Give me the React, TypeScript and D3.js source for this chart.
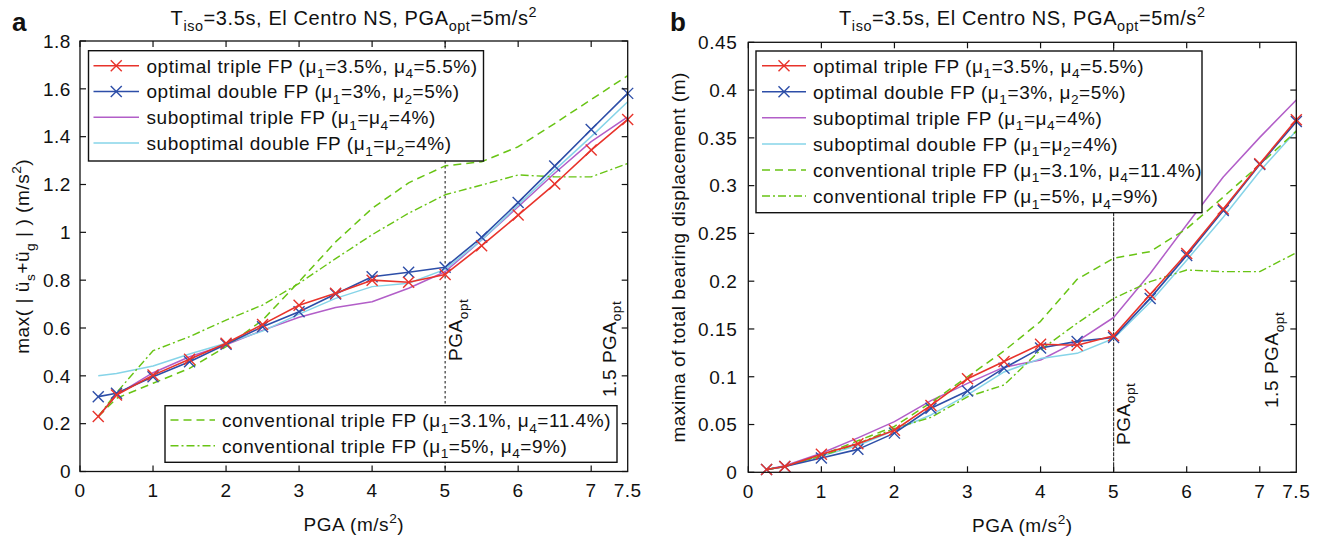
import React from 'react';
import * as d3 from 'd3';

// ---------- data ----------
const PGA = [0.25, 0.5, 1, 1.5, 2, 2.5, 3, 3.5, 4, 4.5, 5, 5.5, 6, 6.5, 7, 7.5];

// panel a: max absolute acceleration (m/s^2)
const accOptTriple = [0.23, 0.32, 0.403, 0.469, 0.536, 0.615, 0.695, 0.745, 0.8, 0.791, 0.824, 0.944, 1.072, 1.202, 1.344, 1.472];
const accOptDouble = [0.313, 0.327, 0.396, 0.459, 0.532, 0.605, 0.668, 0.742, 0.814, 0.833, 0.854, 0.979, 1.125, 1.277, 1.43, 1.581];
const accSubTriple = [0.23, 0.32, 0.413, 0.48, 0.53, 0.59, 0.645, 0.686, 0.71, 0.766, 0.835, 0.968, 1.107, 1.247, 1.379, 1.483];
const accSubDouble = [0.4, 0.41, 0.441, 0.491, 0.536, 0.587, 0.658, 0.724, 0.773, 0.787, 0.845, 0.968, 1.114, 1.26, 1.4, 1.546];
const accConvA = [0.23, 0.306, 0.369, 0.431, 0.522, 0.633, 0.794, 0.96, 1.1, 1.207, 1.278, 1.295, 1.358, 1.455, 1.555, 1.655];
const accConvB = [0.23, 0.33, 0.505, 0.564, 0.633, 0.696, 0.787, 0.89, 0.99, 1.08, 1.157, 1.198, 1.24, 1.232, 1.232, 1.288];

// panel b: maxima of total bearing displacement (m)
const dispOptTriple = [0.003, 0.006, 0.019, 0.03, 0.044, 0.07, 0.098, 0.116, 0.134, 0.133, 0.143, 0.186, 0.229, 0.2755, 0.323, 0.369];
const dispOptDouble = [0.003, 0.006, 0.015, 0.024, 0.041, 0.067, 0.085, 0.109, 0.13, 0.137, 0.141, 0.182, 0.227, 0.274, 0.322, 0.367];
const dispSubTriple = [0.003, 0.007, 0.02, 0.036, 0.053, 0.075, 0.093, 0.11, 0.1175, 0.137, 0.162, 0.208, 0.259, 0.309, 0.3505, 0.3896];
const dispSubDouble = [0.003, 0.006, 0.017, 0.028, 0.044, 0.06, 0.081, 0.105, 0.119, 0.1245, 0.14, 0.178, 0.222, 0.267, 0.315, 0.3575];
const dispConvA = [0.003, 0.006, 0.018, 0.033, 0.048, 0.073, 0.1, 0.127, 0.158, 0.202, 0.224, 0.231, 0.255, 0.288, 0.322, 0.357];
const dispConvB = [0.003, 0.006, 0.017, 0.03, 0.046, 0.0575, 0.079, 0.0914, 0.128, 0.156, 0.182, 0.1995, 0.2117, 0.21, 0.21, 0.2298];

const X_TICKS = [0, 1, 2, 3, 4, 5, 6, 7];
const X_MAX = 7.5;
const ACC_TICKS = [0, 0.2, 0.4, 0.6, 0.8, 1, 1.2, 1.4, 1.6, 1.8];
const DISP_TICKS = [0, 0.05, 0.1, 0.15, 0.2, 0.25, 0.3, 0.35, 0.4, 0.45];
const PGA_OPT = 5;

type Part = [string, 'n' | 'sub' | 'sup'];
const LEGEND_LABELS: Part[][] = [
  [['optimal triple FP (μ', 'n'], ['1', 'sub'], ['=3.5%, μ', 'n'], ['4', 'sub'], ['=5.5%)', 'n']],
  [['optimal double FP (μ', 'n'], ['1', 'sub'], ['=3%, μ', 'n'], ['2', 'sub'], ['=5%)', 'n']],
  [['suboptimal triple FP (μ', 'n'], ['1', 'sub'], ['=μ', 'n'], ['4', 'sub'], ['=4%)', 'n']],
  [['suboptimal double FP (μ', 'n'], ['1', 'sub'], ['=μ', 'n'], ['2', 'sub'], ['=4%)', 'n']],
  [['conventional triple FP (μ', 'n'], ['1', 'sub'], ['=3.1%, μ', 'n'], ['4', 'sub'], ['=11.4%)', 'n']],
  [['conventional triple FP (μ', 'n'], ['1', 'sub'], ['=5%, μ', 'n'], ['4', 'sub'], ['=9%)', 'n']],
];
const TITLE: Part[] = [['T', 'n'], ['iso', 'sub'], ['=3.5s, El Centro NS, PGA', 'n'], ['opt', 'sub'], ['=5m/s', 'n'], ['2', 'sup']];
const X_LABEL: Part[] = [['PGA (m/s', 'n'], ['2', 'sup'], [')', 'n']];
const Y_LABEL_A: Part[] = [['max( | ü', 'n'], ['s', 'sub'], ['+ü', 'n'], ['g', 'sub'], [' | ) (m/s', 'n'], ['2', 'sup'], [')', 'n']];
const Y_LABEL_B: Part[] = [['maxima of total bearing displacement (m)', 'n']];
const OPT_LABEL: Part[] = [['PGA', 'n'], ['opt', 'sub']];
const OPT15_LABEL: Part[] = [['1.5 PGA', 'n'], ['opt', 'sub']];

// ---------- styles ----------
const STYLES = [
  { color: '#e8332b', dash: undefined as string | undefined, marker: true, w: 1.6 },
  { color: '#2d4ea8', dash: undefined, marker: true, w: 1.6 },
  { color: '#b25ec8', dash: undefined, marker: false, w: 1.5 },
  { color: '#86d4e8', dash: undefined, marker: false, w: 1.5 },
  { color: '#68c414', dash: '8,5', marker: false, w: 1.5 },
  { color: '#68c414', dash: '8,3,2,3', marker: false, w: 1.4 },
];
const DRAW_ORDER = [2, 3, 4, 5, 1, 0];
const FONT = '"Liberation Sans", Arial, Helvetica, sans-serif';
const FS = 19;
const LS = 0.55;

function Rich({ parts, fs }: { parts: Part[]; fs: number }) {
  let shift = 0;
  return (
    <>
      {parts.map(([t, k], i) => {
        const target = k === 'sub' ? fs * 0.3 : k === 'sup' ? -fs * 0.42 : 0;
        const dy = target - shift;
        shift = target;
        return (
          <tspan key={i} dy={dy} fontSize={k === 'n' ? fs : fs * 0.72}>
            {t}
          </tspan>
        );
      })}
    </>
  );
}

function Marker({ x, y, color }: { x: number; y: number; color: string }) {
  const s = 5.5;
  return (
    <g stroke={color} strokeWidth={1.4}>
      <line x1={x - s} y1={y - s} x2={x + s} y2={y + s} />
      <line x1={x - s} y1={y + s} x2={x + s} y2={y - s} />
    </g>
  );
}

type LegendBox = { x: number; y: number; w: number; h: number; row0: number; dRow: number; s0: number; s1: number; tx: number; items: number[] };

function Legend({ box }: { box: LegendBox }) {
  return (
    <g>
      <rect x={box.x} y={box.y} width={box.w} height={box.h} fill="#fff" stroke="#111" strokeWidth={1.4} />
      {box.items.map((si, i) => {
        const cy = box.row0 + i * box.dRow;
        const st = STYLES[si];
        return (
          <g key={i}>
            <line x1={box.s0} x2={box.s1} y1={cy} y2={cy} stroke={st.color} strokeWidth={st.w} strokeDasharray={st.dash} />
            {st.marker && <Marker x={(box.s0 + box.s1) / 2} y={cy} color={st.color} />}
            <text x={box.tx} y={cy + 6.8} fontSize={FS} letterSpacing={LS} fill="#111">
              <Rich parts={LEGEND_LABELS[si]} fs={FS} />
            </text>
          </g>
        );
      })}
    </g>
  );
}

type PanelProps = {
  letter: string;
  x0: number; x1: number; yTop: number; yBot: number;
  yMax: number; yTicks: number[];
  series: number[][];
  yLabel: Part[]; yLabelX: number;
  tickGap: number;
  legends: LegendBox[];
  refDash: string;
  optOff: number; opt15Off: number; optY: number; opt15Y: number;
  letterX: number;
};

function Panel(p: PanelProps) {
  const x = d3.scaleLinear().domain([0, X_MAX]).range([p.x0, p.x1]);
  const y = d3.scaleLinear().domain([0, p.yMax]).range([p.yBot, p.yTop]);
  const line = d3.line<number>().x((_, i) => x(PGA[i])).y((d) => y(d));
  const tl = 6;
  const cx = (p.x0 + p.x1) / 2;
  const cy = (p.yTop + p.yBot) / 2;
  return (
    <g fontFamily={FONT}>
      {/* title */}
      <text x={cx} y={25} textAnchor="middle" fontSize={20} letterSpacing={0.6} fill="#111">
        <Rich parts={TITLE} fs={20} />
      </text>
      <text x={p.letterX} y={31} fontSize={26} fontWeight="bold" fill="#111">{p.letter}</text>

      {/* reference line at PGA_opt */}
      <line x1={x(PGA_OPT)} x2={x(PGA_OPT)} y1={p.yTop} y2={p.yBot} stroke="#222" strokeWidth={1.1} strokeDasharray={p.refDash} />

      {/* series */}
      {DRAW_ORDER.map((si) => {
        const st = STYLES[si];
        return (
          <g key={si}>
            <path d={line(p.series[si]) || ''} fill="none" stroke={st.color} strokeWidth={st.w} strokeDasharray={st.dash} strokeLinejoin="round" />
            {st.marker && p.series[si].map((v, i) => <Marker key={i} x={x(PGA[i])} y={y(v)} color={st.color} />)}
          </g>
        );
      })}

      {/* box and ticks */}
      <rect x={p.x0} y={p.yTop} width={p.x1 - p.x0} height={p.yBot - p.yTop} fill="none" stroke="#111" strokeWidth={1.3} />
      {X_TICKS.map((t) => (
        <g key={'xt' + t} stroke="#111" strokeWidth={1.2}>
          <line x1={x(t)} x2={x(t)} y1={p.yBot} y2={p.yBot - tl} />
          <line x1={x(t)} x2={x(t)} y1={p.yTop} y2={p.yTop + tl} />
        </g>
      ))}
      {p.yTicks.map((t) => (
        <g key={'yt' + t} stroke="#111" strokeWidth={1.2}>
          <line x1={p.x0} x2={p.x0 + tl} y1={y(t)} y2={y(t)} />
          <line x1={p.x1} x2={p.x1 - tl} y1={y(t)} y2={y(t)} />
        </g>
      ))}
      {[...X_TICKS, X_MAX].map((t) => (
        <text key={'xl' + t} x={x(t)} y={p.yBot + 25.5} textAnchor="middle" fontSize={FS} letterSpacing={LS} fill="#111">
          {String(t)}
        </text>
      ))}
      {p.yTicks.map((t) => (
        <text key={'yl' + t} x={p.x0 - p.tickGap} y={y(t) + 6.8} textAnchor="end" fontSize={FS} letterSpacing={LS} fill="#111">
          {String(Math.round(t * 100) / 100)}
        </text>
      ))}

      {/* axis labels */}
      <text x={cx} y={p.yBot + 59.5} textAnchor="middle" fontSize={FS} letterSpacing={LS} fill="#111">
        <Rich parts={X_LABEL} fs={FS} />
      </text>
      <text transform={`translate(${p.yLabelX},${cy}) rotate(-90)`} textAnchor="middle" fontSize={FS} letterSpacing={LS} fill="#111">
        <Rich parts={p.yLabel} fs={FS} />
      </text>

      {/* vertical annotations */}
      <text transform={`translate(${x(PGA_OPT) + p.optOff},${p.optY}) rotate(-90)`} fontSize={FS} letterSpacing={LS} fill="#111">
        <Rich parts={OPT_LABEL} fs={FS} />
      </text>
      <text transform={`translate(${x(X_MAX) - p.opt15Off},${p.opt15Y}) rotate(-90)`} fontSize={FS} letterSpacing={LS} fill="#111">
        <Rich parts={OPT15_LABEL} fs={FS} />
      </text>

      {p.legends.map((b, i) => (
        <Legend key={i} box={b} />
      ))}
    </g>
  );
}

export default function App() {
  return (
    <svg width={1327} height={541} style={{ position: 'absolute', left: 0, top: 0, background: '#fff' }}>
      <rect x={0} y={0} width={1327} height={541} fill="#fff" />
      <Panel
        letter="a"
        letterX={12}
        x0={80} x1={627.7} yTop={41} yBot={471.5}
        yMax={1.8} yTicks={ACC_TICKS}
        series={[accOptTriple, accOptDouble, accSubTriple, accSubDouble, accConvA, accConvB]}
        yLabel={Y_LABEL_A} yLabelX={29}
        tickGap={9}
        refDash="2.5,2.5"
        optOff={17} optY={361} opt15Off={12} opt15Y={397}
        legends={[
          { x: 88.5, y: 50.7, w: 395, h: 110.3, row0: 65.7, dRow: 25.8, s0: 93.5, s1: 139, tx: 146.5, items: [0, 1, 2, 3] },
          { x: 165, y: 405.7, w: 452, h: 56.6, row0: 420, dRow: 25.7, s0: 170.5, s1: 215, tx: 222, items: [4, 5] },
        ]}
      />
      <Panel
        letter="b"
        letterX={670}
        x0={748.3} x1={1296.3} yTop={42.3} yBot={472.3}
        yMax={0.45} yTicks={DISP_TICKS}
        series={[dispOptTriple, dispOptDouble, dispSubTriple, dispSubDouble, dispConvA, dispConvB]}
        yLabel={Y_LABEL_B} yLabelX={685}
        tickGap={11}
        refDash="4,1"
        optOff={16} optY={445} opt15Off={18} opt15Y={408}
        legends={[
          { x: 756, y: 51, w: 446, h: 161.7, row0: 65.7, dRow: 26.06, s0: 762, s1: 806, tx: 813, items: [0, 1, 2, 3, 4, 5] },
        ]}
      />
    </svg>
  );
}
